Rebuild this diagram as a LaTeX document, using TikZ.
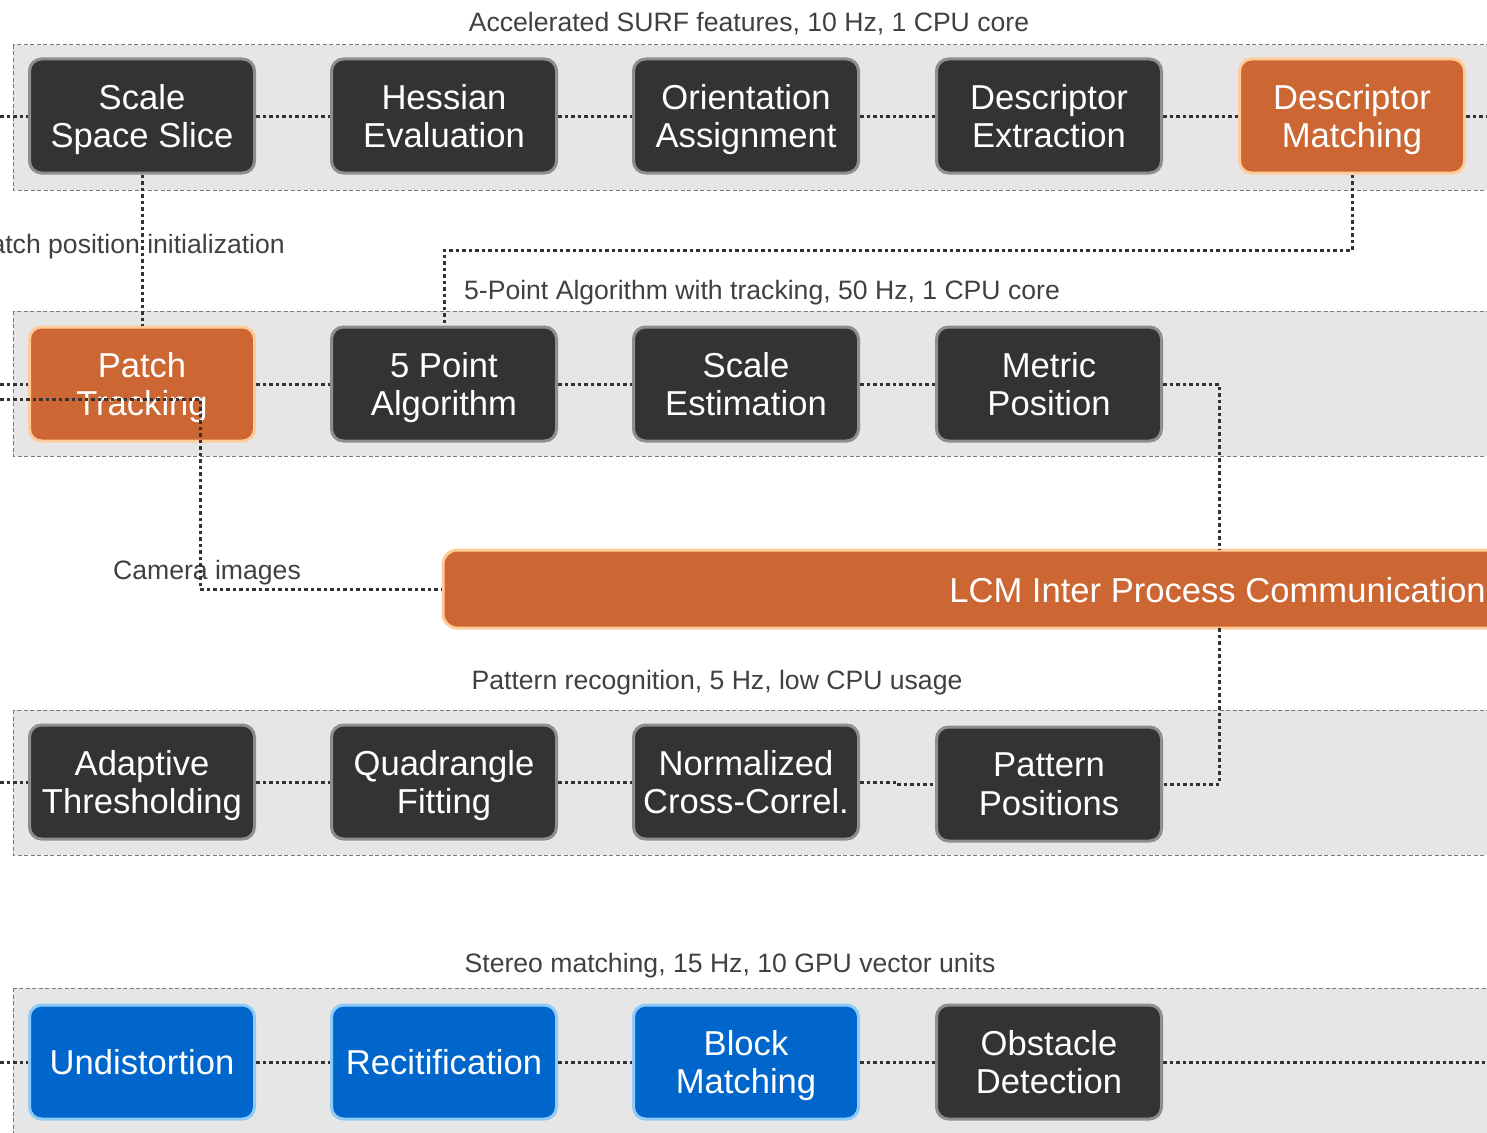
\documentclass[tikz,border=0pt]{standalone}
\usepackage{fontspec}
\setmainfont{Liberation Sans}
\definecolor{boxdark}{HTML}{333333}
\definecolor{boxedge}{HTML}{8E8E8E}
\definecolor{orfill}{HTML}{CC6633}
\definecolor{oredge}{HTML}{FFCC99}
\definecolor{blfill}{HTML}{0066CC}
\definecolor{bledge}{HTML}{8FCBF7}
\definecolor{grpfill}{HTML}{E6E6E6}
\definecolor{grpedge}{HTML}{7A7A7A}
\definecolor{lbl}{HTML}{404040}
\definecolor{conncol}{HTML}{333333}
\tikzset{
  stagebox/.style={rectangle, rounded corners=12pt, minimum width=225pt, minimum height=114pt,
    line width=3pt, draw=boxedge, fill=boxdark, text=white, align=center, inner sep=0pt,
    text depth=0pt, font=\fontsize{34.6}{38.5}\selectfont},
  orbox/.style={stagebox, draw=oredge, fill=orfill},
  blbox/.style={stagebox, draw=bledge, fill=blfill},
  grp/.style={fill=grpfill, draw=grpedge, line width=1pt, dash pattern=on 4pt off 2.5pt},
  grplabel/.style={text=lbl, inner sep=0pt, anchor=base, font=\fontsize{26.6}{30}\selectfont},
  conn/.style={draw=conncol, line width=3pt, dash pattern=on 3.5pt off 3pt},
  lcmbar/.style={rectangle, rounded corners=14pt, line width=3pt, draw=oredge, fill=orfill,
    minimum width=1110pt, minimum height=78pt, inner sep=0pt},
  lcmtext/.style={text=white, inner sep=0pt, font=\fontsize{34.6}{38}\selectfont}
}
\begin{document}
\begin{tikzpicture}[x=1pt,y=-1pt]
\useasboundingbox (0,0) rectangle (1487,1132);
\clip (0,0) rectangle (1487,1132);
% groups
\path[grp] (13,45) rectangle (1510,190);
\path[grp] (13,311) rectangle (1510,456);
\path[grp] (13,710) rectangle (1510,855);
\path[grp] (13,988) rectangle (1510,1160);
% labels
\node[grplabel] (lab1) at (749,31.5) {Accelerated SURF features, 10 Hz, 1 CPU core};
\node[grplabel, anchor=base east] (labpp) at (285,253.5) {Patch position initialization};
\node[grplabel] (lab2) at (762,299.5) {5-Point Algorithm with tracking, 50 Hz, 1 CPU core};
\node[grplabel] (labcam) at (207,579.5) {Camera images};
\node[grplabel] (lab3) at (717,689.5) {Pattern recognition, 5 Hz, low CPU usage};
\node[grplabel] (lab4) at (730,972.5) {Stereo matching, 15 Hz, 10 GPU vector units};
% row 1
\node[stagebox] (ss) at (142,116) {Scale\\Space Slice};
\node[stagebox] (he) at (444,116) {Hessian\\Evaluation};
\node[stagebox] (oa) at (746,116) {Orientation\\Assignment};
\node[stagebox] (de) at (1049,116) {Descriptor\\Extraction};
\node[orbox] (dm) at (1352,116) {Descriptor\\Matching};
% row 2
\node[orbox] (pt) at (142,384) {Patch\\Tracking};
\node[stagebox] (fp) at (444,384) {5 Point\\Algorithm};
\node[stagebox] (se) at (746,384) {Scale\\Estimation};
\node[stagebox] (mp) at (1049,384) {Metric\\Position};
% LCM
\node[lcmbar] (lcm) at (998,589) {};
\node[lcmtext, anchor=east] (lcmlabel) at (1486,590) {LCM Inter Process Communication};
% row 3
\node[stagebox] (at) at (142,782) {Adaptive\\Thresholding};
\node[stagebox] (qf) at (444,782) {Quadrangle\\Fitting};
\node[stagebox] (nc) at (746,782) {Normalized\\Cross-Correl.};
\node[stagebox] (pp) at (1049,784) {Pattern\\Positions};
% row 4
\node[blbox] (ud) at (142,1062) {Undistortion};
\node[blbox] (rc) at (444,1062) {Recitification};
\node[blbox] (bm) at (746,1062) {Block\\Matching};
\node[stagebox] (od) at (1049,1062) {Obstacle\\Detection};
% free ends
\coordinate (l1) at (0,116);
\coordinate (r1) at (1487,116);
\coordinate (l2) at (0,384);
\coordinate (l2b) at (0,399);
\coordinate (ptturn) at (200,399);
\coordinate (dmturn) at (1352,250);
\coordinate (l3) at (0,782);
\coordinate (l4) at (0,1062);
\coordinate (r4) at (1487,1062);
\coordinate (lcmtop) at (1219,550);
\coordinate (lcmbot) at (1219,628);
% connectors
\draw[conn] (l1) -- (ss.west);
\draw[conn] (ss.east) -- (he.west);
\draw[conn] (he.east) -- (oa.west);
\draw[conn] (oa.east) -- (de.west);
\draw[conn] (de.east) -- (dm.west);
\draw[conn] (dm.east) -- (r1);
\draw[conn] (ss.south) -- (pt.north);
\draw[conn] (dm.south) -- (dmturn) -| (fp.north);
\draw[conn] (l2) -- (pt.west);
\draw[conn] (pt.east) -- (fp.west);
\draw[conn] (fp.east) -- (se.west);
\draw[conn] (se.east) -- (mp.west);
\draw[conn] (mp.east) -| (lcmtop);
\draw[conn] (l2b) -- (ptturn) |- (lcm.west);
\draw[conn] (lcmbot) |- (pp.east);
\draw[conn] (l3) -- (at.west);
\draw[conn] (at.east) -- (qf.west);
\draw[conn] (qf.east) -- (nc.west);
\draw[conn] (nc.east) -- ++(37,0) |- (pp.west);
\draw[conn] (l4) -- (ud.west);
\draw[conn] (ud.east) -- (rc.west);
\draw[conn] (rc.east) -- (bm.west);
\draw[conn] (bm.east) -- (od.west);
\draw[conn] (od.east) -- (r4);
\end{tikzpicture}
\end{document}
